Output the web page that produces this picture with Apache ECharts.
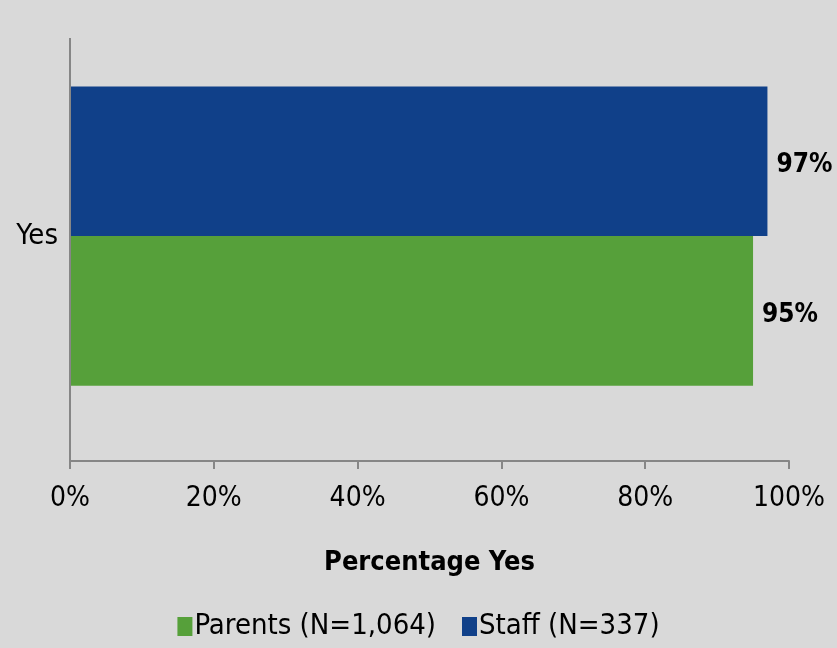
<!DOCTYPE html>
<html>
<head>
<meta charset="utf-8">
<script src="https://cdn.jsdelivr.net/npm/echarts@6/dist/echarts.min.js"></script>
<style>html,body{margin:0;padding:0;background:#d9d9d9;}#c{width:837px;height:648px;}</style>
</head>
<body>
<div id="c"></div>
<script>
const categories = ['Yes'];
const seriesNames = ['Parents (N=1,064)', 'Staff (N=337)'];
const parentsValues = [95];
const staffValues = [97];
const xTicks = [0, 20, 40, 60, 80, 100];

const FONT = '"Liberation Sans Narrow", "DejaVu Sans Condensed", "Open Sans", sans-serif';
const labelStyle = { show: true, position: 'right', distance: 9, formatter: '{c}%', fontSize: 26, fontWeight: 'bold', color: '#000', fontFamily: FONT, offset: [0, 4] };
const chart = echarts.init(document.getElementById('c'));
chart.setOption({
  backgroundColor: '#d9d9d9',
  animation: false,
  textStyle: { fontFamily: FONT },
  grid: { left: 70, right: 48, top: 11, bottom: 187, containLabel: false },
  graphic: [{
    type: 'line', shape: { x1: 70, y1: 38, x2: 70, y2: 461 },
    style: { stroke: '#868686', lineWidth: 2 }, z: 10
  }],
  legend: {
    bottom: 2,
    left: 'center',
    itemWidth: 15,
    itemHeight: 19,
    itemGap: 26,
    icon: 'rect',
    textStyle: { fontSize: 29, color: '#000', fontFamily: FONT, padding: [0, 0, 0, -3] },
    data: seriesNames
  },
  xAxis: {
    type: 'value',
    min: 0, max: 100, interval: 20,
    name: 'Percentage Yes',
    nameLocation: 'middle',
    nameGap: 88,
    nameTextStyle: { fontSize: 27, fontWeight: 'bold', color: '#000', fontFamily: FONT },
    axisLine: { show: true, lineStyle: { color: '#868686', width: 2 } },
    axisTick: { show: true, length: 8, lineStyle: { color: '#868686', width: 2 } },
    splitLine: { show: false },
    axisLabel: { fontSize: 28, color: '#000', margin: 24, fontFamily: FONT,
      formatter: v => xTicks.includes(v) ? v + '%' : '' }
  },
  yAxis: {
    type: 'category',
    data: categories,
    axisLine: { show: false },
    axisTick: { show: false },
    axisLabel: { fontSize: 29, color: '#000', margin: 12, fontFamily: FONT, padding: [8, 0, 0, 0] }
  },
  series: [
    {
      name: seriesNames[1], type: 'bar', data: staffValues,
      barGap: '0%', barCategoryGap: '33.5%',
      itemStyle: { color: '#104089' },
      label: labelStyle
    },
    {
      name: seriesNames[0], type: 'bar', data: parentsValues,
      barGap: '0%', barCategoryGap: '33.5%',
      itemStyle: { color: '#56a03a' },
      label: labelStyle
    }
  ]
});
</script>
</body>
</html>
